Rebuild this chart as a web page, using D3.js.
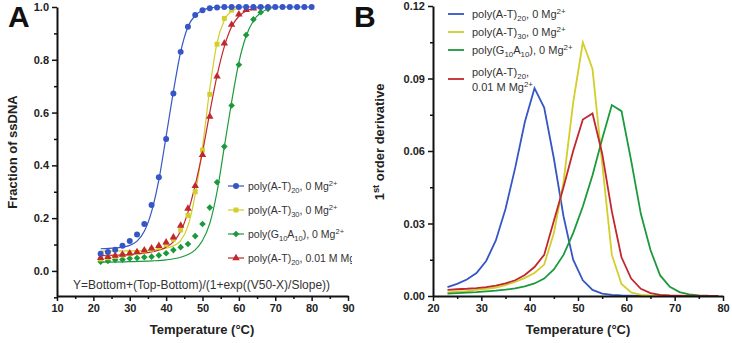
<!DOCTYPE html>
<html>
<head>
<meta charset="utf-8">
<script src="https://cdn.jsdelivr.net/npm/d3@7"></script>
<style>
  body { margin: 0; background: #fff; }
  text { font-family: "Liberation Sans", Arial, sans-serif; }
</style>
</head>
<body>
<div id="container"></div>
<script>
/* CONSTANTS AND GLOBALS */
const width = 732;
const height = 343;

/* DATA - panel A (fraction of ssDNA, points every 2 °C) */
const tempBlueA   = [22,24,26,28,30,32,34,36,38,40,42,44,46,48,50,52,54,56,58,60,62,64,66,68,70,72,74,76,78,80];
const blueA       = [0.065,0.072,0.08,0.095,0.113,0.138,0.178,0.25,0.355,0.5,0.672,0.83,0.925,0.97,0.988,0.995,0.998,1,1,1,1,1,1,1,1,1,1,1,1,1];
const tempYellowA = [22,24,26,28,30,32,34,36,38,40,42,44,46,48,50,52,54,56,58];
const yellowA     = [0.045,0.05,0.055,0.06,0.065,0.07,0.075,0.082,0.09,0.1,0.12,0.155,0.21,0.3,0.458,0.669,0.859,0.957,0.988];
const tempGreenA  = [22,24,26,28,30,32,34,36,38,40,42,44,46,48,50,52,54,56,58,60,62,64,66,68];
const greenA      = [0.035,0.038,0.042,0.043,0.047,0.049,0.052,0.054,0.059,0.067,0.079,0.09,0.102,0.132,0.178,0.24,0.336,0.471,0.627,0.781,0.894,0.953,0.98,0.993];
const tempRedA    = [22,24,26,28,30,32,34,36,38,40,42,44,46,48,50,52,54,56,58,60,62,64];
const redA        = [0.05,0.053,0.058,0.062,0.067,0.072,0.078,0.086,0.095,0.108,0.127,0.172,0.236,0.322,0.44,0.585,0.737,0.862,0.933,0.972,0.989,0.995];

// fitted sigmoid lines
const blueFitT   = [22,26,30,32,34,36,38,40,42,44,46,48,50,52,54,58,80];
const blueFit    = [0.084,0.087,0.097,0.113,0.15,0.225,0.345,0.51,0.68,0.83,0.925,0.968,0.988,0.996,0.999,1,1];
const yellowFitT = [22,30,36,40,42,44,46,48,50,52,54,56,58,60];
const yellowFit  = [0.075,0.076,0.079,0.086,0.095,0.115,0.17,0.29,0.47,0.69,0.865,0.95,0.985,0.996];
const greenFitT  = [22,30,36,40,44,46,48,50,52,54,56,58,60,62,64,66,68,70];
const greenFit   = [0.033,0.035,0.038,0.042,0.052,0.062,0.08,0.115,0.18,0.3,0.47,0.64,0.79,0.89,0.948,0.978,0.992,1.0];
const redFitT    = [22,30,36,40,42,44,46,48,50,52,54,56,58,60,62,64,67];
const redFit     = [0.058,0.062,0.072,0.09,0.11,0.15,0.222,0.325,0.45,0.6,0.74,0.85,0.925,0.965,0.985,0.994,1.0];

/* DATA - panel B (1st order derivative) */
const tempB   = [23,25,27,29,31,33,35,37,39,41,43,45,47,49,51,53,55,57,59,61,63,65,67,69,71,73,75,77,79];
const blueB   = [0.0037,0.005,0.0068,0.0095,0.0145,0.023,0.036,0.053,0.072,0.086,0.078,0.057,0.033,0.015,0.0065,0.0025,0.001,0.0005,0.0002,0.0001,0,0,0,0,0,0,0,0,0];
const yellowB = [0.0015,0.0018,0.002,0.0025,0.003,0.0035,0.0045,0.0058,0.0075,0.0095,0.013,0.026,0.047,0.08,0.105,0.094,0.055,0.017,0.005,0.0015,0.0005,0.0002,0.0001,0,0,0,0,0,0];
const greenB  = [0.001,0.0012,0.0014,0.0016,0.0019,0.0022,0.0026,0.0032,0.004,0.0052,0.0072,0.011,0.017,0.026,0.037,0.05,0.065,0.079,0.0765,0.056,0.034,0.019,0.0085,0.0038,0.0016,0.0007,0.0003,0.0001,0];
const redB    = [0.0025,0.0028,0.003,0.0033,0.0037,0.0043,0.0052,0.0065,0.0087,0.012,0.017,0.031,0.045,0.06,0.073,0.0755,0.059,0.035,0.016,0.0072,0.003,0.0012,0.0005,0.0002,0.0001,0,0,0,0];

/* TICKS AND LABELS */
const xTicksA = [10,20,30,40,50,60,70,80,90];
const xMinorA = [15,25,35,45,55,65,75,85];
const yTicksA = [0,0.2,0.4,0.6,0.8,1.0];
const yMinorA = [-0.1,0.1,0.3,0.5,0.7,0.9];
const xTicksB = [20,30,40,50,60,70,80];
const xMinorB = [25,35,45,55,65,75];
const yTicksB = [0,0.03,0.06,0.09,0.12];
const yMinorB = [0.015,0.045,0.075,0.105];

const colors = { blue: '#3556c4', yellow: '#d2ce2a', green: '#1b9a3c', red: '#c2272d' };

// marker: symbol type, area, rotation
const markers = {
  blue:   { shape: d3.symbolCircle,   size: 28, rot: 0 },
  yellow: { shape: d3.symbolSquare,   size: 24, rot: 0 },
  green:  { shape: d3.symbolSquare,   size: 22, rot: 45 },
  red:    { shape: d3.symbolTriangle, size: 24, rot: 0 }
};

const legendA = [
  { key: 'blue',   parts: [['poly(A-T)',''],['20','sub'],[', 0 Mg',''],['2+','sup']] },
  { key: 'yellow', parts: [['poly(A-T)',''],['30','sub'],[', 0 Mg',''],['2+','sup']] },
  { key: 'green',  parts: [['poly(G',''],['10','sub'],['A',''],['10','sub'],['), 0 Mg',''],['2+','sup']] },
  { key: 'red',    parts: [['poly(A-T)',''],['20','sub'],[', 0.01 M Mg',''],['2+','sup']] }
];
const legendB = [
  { key: 'blue',   lines: [[['poly(A-T)',''],['20','sub'],[', 0 Mg',''],['2+','sup']]] },
  { key: 'yellow', lines: [[['poly(A-T)',''],['30','sub'],[', 0 Mg',''],['2+','sup']]] },
  { key: 'green',  lines: [[['poly(G',''],['10','sub'],['A',''],['10','sub'],['), 0 Mg',''],['2+','sup']]] },
  { key: 'red',    lines: [[['poly(A-T)',''],['20','sub'],[',','']], [['0.01 M Mg',''],['2+','sup']]] }
];

/* HELPERS */
function richText(textSel, parts, size) {
  let shift = 0;
  parts.forEach(([s, mode]) => {
    const target = mode === 'sub' ? size * 0.3 : mode === 'sup' ? -size * 0.4 : 0;
    textSel.append('tspan')
      .attr('dy', target - shift)
      .attr('font-size', mode ? size * 0.72 : size)
      .text(s);
    shift = target;
  });
}

function drawAxes(g, x, y, xMaj, xMin, yMaj, yMin, yFmt) {
  const y0 = y.range()[0];
  const x0 = x.range()[0];
  g.append('g').attr('transform', `translate(0,${y0})`)
    .call(d3.axisBottom(x).tickValues(xMaj).tickSize(5).tickSizeOuter(0).tickPadding(3).tickFormat(d3.format('d')));
  g.append('g').attr('transform', `translate(0,${y0})`)
    .call(d3.axisBottom(x).tickValues(xMin).tickSize(3).tickFormat(''))
    .select('.domain').remove();
  g.append('g').attr('transform', `translate(${x0},0)`)
    .call(d3.axisLeft(y).tickValues(yMaj).tickSize(5).tickSizeOuter(0).tickPadding(3).tickFormat(d3.format(yFmt)));
  g.append('g').attr('transform', `translate(${x0},0)`)
    .call(d3.axisLeft(y).tickValues(yMin).tickSize(3).tickFormat(''))
    .select('.domain').remove();
  g.selectAll('.domain').attr('stroke', '#111').attr('stroke-width', 2);
  g.selectAll('.tick line').attr('stroke', '#111').attr('stroke-width', 1.5);
  g.selectAll('.tick text').attr('fill', '#222').attr('font-size', 11).attr('font-weight', 'bold')
    .attr('font-family', '"Liberation Sans", Arial, sans-serif');
}

/* SVG */
const svg = d3.select('#container')
  .append('svg')
  .attr('width', width)
  .attr('height', height);

/* ---------- PANEL A ---------- */
const xA = d3.scaleLinear().domain([10, 90]).range([57, 348]);
const yA = d3.scaleLinear().domain([-0.095, 1]).range([296, 7]);
const gA = svg.append('g');

svg.append('defs').append('clipPath').attr('id', 'clipA')
  .append('rect').attr('x', 0).attr('y', 0).attr('width', 352).attr('height', height);

const fitsA = [
  { key: 'yellow', t: yellowFitT, v: yellowFit },
  { key: 'red',    t: redFitT,    v: redFit },
  { key: 'green',  t: greenFitT,  v: greenFit },
  { key: 'blue',   t: blueFitT,   v: blueFit }
];
const lineA = d3.line().x(d => xA(d[0])).y(d => yA(d[1])).curve(d3.curveMonotoneX);
gA.selectAll('path.fit')
  .data(fitsA)
  .join('path')
  .attr('class', 'fit')
  .attr('fill', 'none')
  .attr('stroke', d => colors[d.key])
  .attr('stroke-width', 1.2)
  .attr('d', d => lineA(d.t.map((t, i) => [t, d.v[i]])));

const pointsA = [
  { key: 'green',  t: tempGreenA,  v: greenA },
  { key: 'yellow', t: tempYellowA, v: yellowA },
  { key: 'red',    t: tempRedA,    v: redA },
  { key: 'blue',   t: tempBlueA,   v: blueA }
];
pointsA.forEach(s => {
  const m = markers[s.key];
  gA.append('g').selectAll('path')
    .data(s.t.map((t, i) => [t, s.v[i]]))
    .join('path')
    .attr('transform', d => `translate(${xA(d[0])},${yA(d[1])}) rotate(${m.rot})`)
    .attr('d', d3.symbol().type(m.shape).size(m.size))
    .attr('fill', colors[s.key]);
});

drawAxes(gA, xA, yA, xTicksA, xMinorA, yTicksA, yMinorA, '.1f');

// legend A
const legA = gA.append('g').attr('clip-path', 'url(#clipA)');
legendA.forEach((d, i) => {
  const yy = 186 + i * 24;
  const m = markers[d.key];
  legA.append('line').attr('x1', 228).attr('x2', 244).attr('y1', yy).attr('y2', yy)
    .attr('stroke', colors[d.key]).attr('stroke-width', 1.2);
  legA.append('path').attr('transform', `translate(236,${yy}) rotate(${m.rot})`)
    .attr('d', d3.symbol().type(m.shape).size(m.size)).attr('fill', colors[d.key]);
  const t = legA.append('text').attr('x', 248).attr('y', yy + 4).attr('fill', '#333').attr('font-size', 10.5);
  richText(t, d.parts, 10.5);
});

gA.append('text').attr('x', 73).attr('y', 289).attr('font-size', 12).attr('fill', '#333')
  .text('Y=Bottom+(Top-Bottom)/(1+exp((V50-X)/Slope))');

gA.append('text').attr('x', 202).attr('y', 334).attr('text-anchor', 'middle')
  .attr('font-size', 13).attr('font-weight', 'bold').attr('fill', '#222').text('Temperature (°C)');
gA.append('text').attr('transform', 'translate(17,152) rotate(-90)').attr('text-anchor', 'middle')
  .attr('font-size', 13).attr('font-weight', 'bold').attr('fill', '#222').text('Fraction of ssDNA');
gA.append('text').attr('x', 8).attr('y', 27).attr('font-size', 30).attr('font-weight', 'bold')
  .attr('fill', '#111').text('A');

/* ---------- PANEL B ---------- */
const xB = d3.scaleLinear().domain([20, 80]).range([433, 723]);
const yB = d3.scaleLinear().domain([0, 0.12]).range([296, 6]);
const gB = svg.append('g');

const seriesB = [
  { key: 'blue',   v: blueB },
  { key: 'yellow', v: yellowB },
  { key: 'green',  v: greenB },
  { key: 'red',    v: redB }
];
const lineB = d3.line().x((d, i) => xB(tempB[i])).y(d => yB(d));
gB.selectAll('path.deriv')
  .data(seriesB)
  .join('path')
  .attr('class', 'deriv')
  .attr('fill', 'none')
  .attr('stroke', d => colors[d.key])
  .attr('stroke-width', 1.8)
  .attr('d', d => lineB(d.v));

drawAxes(gB, xB, yB, xTicksB, xMinorB, yTicksB, yMinorB, '.2f');

// legend B
const legRows = [14, 32, 50, 79];
legendB.forEach((d, i) => {
  const yy = legRows[i];
  gB.append('line').attr('x1', 448).attr('x2', 464).attr('y1', yy).attr('y2', yy)
    .attr('stroke', colors[d.key]).attr('stroke-width', 1.8);
  d.lines.forEach((parts, j) => {
    const off = d.lines.length > 1 ? (j === 0 ? -7 : 8) : 0;
    const t = gB.append('text').attr('x', 472).attr('y', yy + off + 4).attr('fill', '#333').attr('font-size', 11);
    richText(t, parts, 11);
  });
});

gB.append('text').attr('x', 578).attr('y', 334).attr('text-anchor', 'middle')
  .attr('font-size', 13).attr('font-weight', 'bold').attr('fill', '#222').text('Temperature (°C)');
const yTitleB = gB.append('text').attr('transform', 'translate(384,142) rotate(-90)').attr('text-anchor', 'middle')
  .attr('font-size', 13).attr('font-weight', 'bold').attr('fill', '#222');
richText(yTitleB, [['1',''],['st','sup'],[' order derivative','']], 13);
gB.append('text').attr('x', 354).attr('y', 27).attr('font-size', 30).attr('font-weight', 'bold')
  .attr('fill', '#111').text('B');
</script>
</body>
</html>
